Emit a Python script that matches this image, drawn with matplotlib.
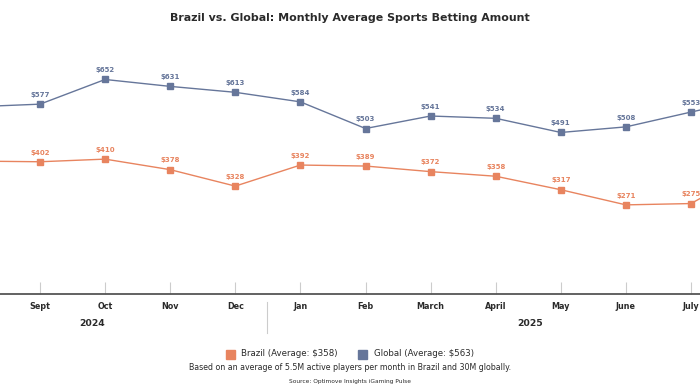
## Brazil vs Global monthly average sports betting amount

import numpy as np
import matplotlib
matplotlib.use("Agg")
import matplotlib.pyplot as plt

months = ["Aug", "Sept", "Oct", "Nov", "Dec", "Jan", "Feb", "March", "April", "May", "June", "July", "Aug"]
brazil = [404, 402, 410, 378, 328, 392, 389, 372, 358, 317, 271, 275, 385]
glob = [569, 577, 652, 631, 613, 584, 503, 541, 534, 491, 508, 553, 597]
years = ["2024", "2025"]

c_br = "#e8845f"
c_gl = "#66769a"
c_txt = "#2a2a2a"

fig = plt.figure(figsize=(7, 3.9), dpi=100)
ax = fig.add_axes([0, 0.246, 1, 0.6])
x = np.arange(len(months))
shown = x[1:-1]  # months inside the visible frame

for vals, col in [(glob, c_gl), (brazil, c_br)]:
    ax.plot(x, vals, color=col, lw=1.0, marker="s", ms=4.5, zorder=3)
    for xi in shown:
        ax.annotate(f"${vals[xi]}", (xi, vals[xi]), xytext=(0, 4.5), textcoords="offset points",
                    ha="center", va="bottom", fontsize=5, color=col, fontweight="bold")

for s in ["top", "left", "right"]:
    ax.spines[s].set_visible(False)
ax.spines["bottom"].set_color("#555555")
ax.spines["bottom"].set_linewidth(1.3)
ax.set_yticks([])
ax.set_xticks(shown)
ax.set_xticklabels(months[1:-1], fontsize=5.8, fontweight="bold", color=c_txt)
ax.tick_params(axis="x", direction="in", length=9, width=0.8, color="#cccccc", pad=6)
ax.set_xlim(1 - 40 / 65.1, 1 + 660 / 65.1)
ax.set_ylim(0, 711)

# year labels and separator
fig.text(92 / 700, 1 - 324 / 390, years[0], ha="center", va="center", fontsize=6.7, fontweight="bold", color=c_txt)
fig.text(530 / 700, 1 - 324 / 390, years[1], ha="center", va="center", fontsize=6.7, fontweight="bold", color=c_txt)
fig.add_artist(plt.Line2D([267 / 700, 267 / 700], [1 - 302 / 390, 1 - 333 / 390], color="#cccccc", lw=0.8))

fig.text(0.5, 1 - 18 / 390, "Brazil vs. Global: Monthly Average Sports Betting Amount",
         ha="center", va="center", fontsize=7.9, fontweight="bold", color=c_txt)

# legend
ly = 1 - 354 / 390
fig.patches.append(plt.Rectangle((226 / 700, ly - 5 / 390), 9 / 700, 9 / 390, color=c_br, transform=fig.transFigure, figure=fig))
fig.text(241 / 700, ly, "Brazil (Average: $358)", ha="left", va="center", fontsize=6.2, color=c_txt)
fig.patches.append(plt.Rectangle((358 / 700, ly - 5 / 390), 9 / 700, 9 / 390, color=c_gl, transform=fig.transFigure, figure=fig))
fig.text(374 / 700, ly, "Global (Average: $563)", ha="left", va="center", fontsize=6.2, color=c_txt)

fig.text(0.5, 1 - 368 / 390, "Based on an average of 5.5M active players per month in Brazil and 30M globally.",
         ha="center", va="center", fontsize=5.7, color=c_txt)
fig.text(0.5, 1 - 382 / 390, "Source: Optimove Insights iGaming Pulse",
         ha="center", va="center", fontsize=4.2, color=c_txt)

fig.savefig("out.png", dpi=100)
